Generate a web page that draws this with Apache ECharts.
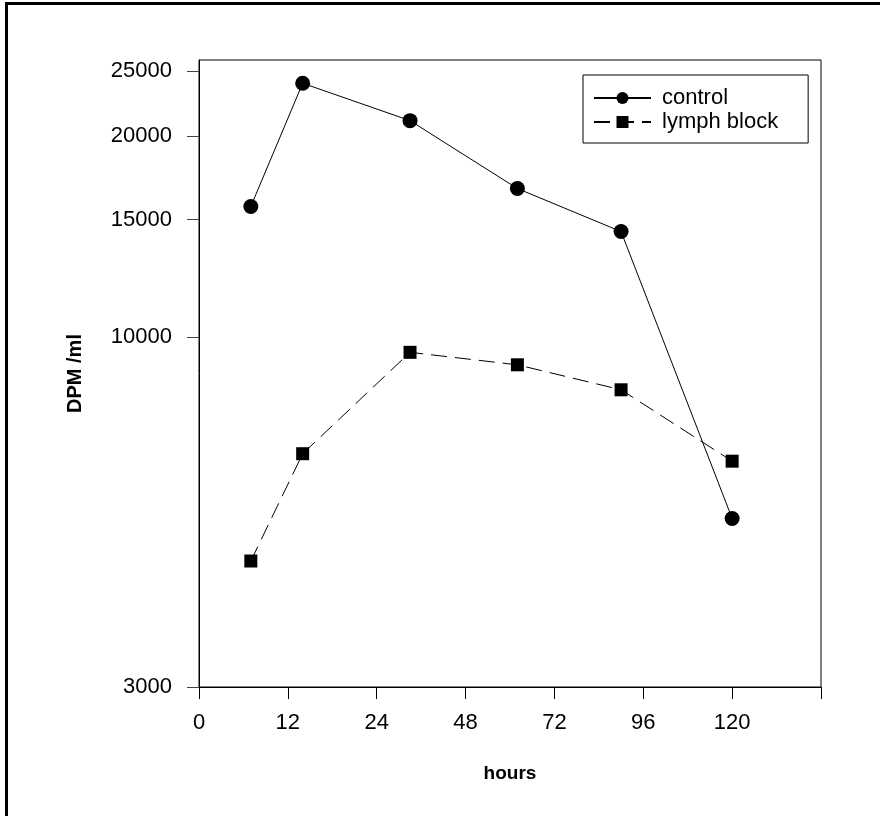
<!DOCTYPE html>
<html>
<head>
<meta charset="utf-8">
<script src="https://cdn.jsdelivr.net/npm/echarts@6/dist/echarts.min.js"></script>
<style>html,body{margin:0;padding:0;background:#fff}#c{width:880px;height:816px}</style>
</head>
<body>
<div id="c"></div>
<script>
// x-axis tick labels (hours) – equally spaced on the axis
const xTickHours = [0, 12, 24, 48, 72, 96, 120, 144];
const xTickLabels = ['0', '12', '24', '48', '72', '96', '120', ''];
const yTickValues = [3000, 10000, 15000, 20000, 25000];

const sampleHours = [7, 14, 33, 62, 90, 120];
const controlValues = [15700, 24000, 21100, 16700, 14400, 5360];
const lymphBlockValues = [4630, 6700, 9500, 9100, 8350, 6530];

// piecewise axis: hours -> tick index position
function hourToPos(h) {
  for (let i = 0; i < xTickHours.length - 1; i++) {
    const a = xTickHours[i], b = xTickHours[i + 1];
    if (h >= a && h <= b) return i + (h - a) / (b - a);
  }
  return xTickHours.length - 1;
}
const controlData = sampleHours.map((h, i) => [hourToPos(h), controlValues[i]]);
const lymphData = sampleHours.map((h, i) => [hourToPos(h), lymphBlockValues[i]]);

const FONT = '"Liberation Sans", Arial, sans-serif';
const chart = echarts.init(document.getElementById('c'));
chart.setOption({
  animation: false,
  backgroundColor: '#fff',
  graphic: [{
    type: 'rect', silent: true,
    shape: { x: 6.5, y: 3.5, width: 1000, height: 1000 },
    style: { fill: 'none', stroke: '#000', lineWidth: 3 }
  }],
  grid: { left: 199, top: 60, right: 59, bottom: 129, show: true, borderColor: '#000', borderWidth: 1 },
  legend: {
    orient: 'vertical', left: 583, top: 75,
    backgroundColor: '#fff',
    borderColor: '#000', borderWidth: 1,
    padding: [12, 30, 10, 10],
    itemWidth: 57, itemHeight: 15, itemGap: 2,
    textStyle: { fontFamily: FONT, fontSize: 22, color: '#000', padding: [0, 0, 0, 6] },
    data: ['control', 'lymph block']
  },
  xAxis: {
    type: 'value', min: 0, max: xTickHours.length - 1, interval: 1,
    name: 'hours', nameLocation: 'middle', nameGap: 77,
    nameTextStyle: { fontFamily: FONT, fontSize: 19, fontWeight: 'bold', color: '#000' },
    axisLine: { show: true, lineStyle: { color: '#000', width: 1 } },
    axisTick: { show: true, inside: false, length: 12, lineStyle: { color: '#000' } },
    axisLabel: {
      margin: 25, fontFamily: FONT, fontSize: 22, color: '#000',
      formatter: v => xTickLabels[Math.round(v)] || ''
    },
    splitLine: { show: false }
  },
  yAxis: {
    type: 'log', min: 3000, max: 26000, logBase: 10,
    name: 'DPM /ml', nameLocation: 'middle', nameGap: 114,
    nameTextStyle: { fontFamily: FONT, fontSize: 20, fontWeight: 'bold', color: '#000' },
    axisLine: { show: true, lineStyle: { color: '#000', width: 1 } },
    axisTick: { show: true, inside: false, length: 12, customValues: yTickValues, lineStyle: { color: '#444' } },
    axisLabel: {
      margin: 27, fontFamily: FONT, fontSize: 22, color: '#000',
      customValues: yTickValues,
      formatter: v => String(Math.round(v))
    },
    splitLine: { show: false },
    minorTick: { show: false }
  },
  series: [{
    name: 'control', type: 'line', data: controlData,
    symbol: 'circle', symbolSize: 15,
    itemStyle: { color: '#000' },
    lineStyle: { color: '#000', width: 1, type: 'solid' }
  }, {
    name: 'lymph block', type: 'line', data: lymphData,
    symbol: 'rect', symbolSize: 13,
    itemStyle: { color: '#000' },
    lineStyle: { color: '#000', width: 1, type: [16, 8] }
  }]
});
</script>
</body>
</html>
